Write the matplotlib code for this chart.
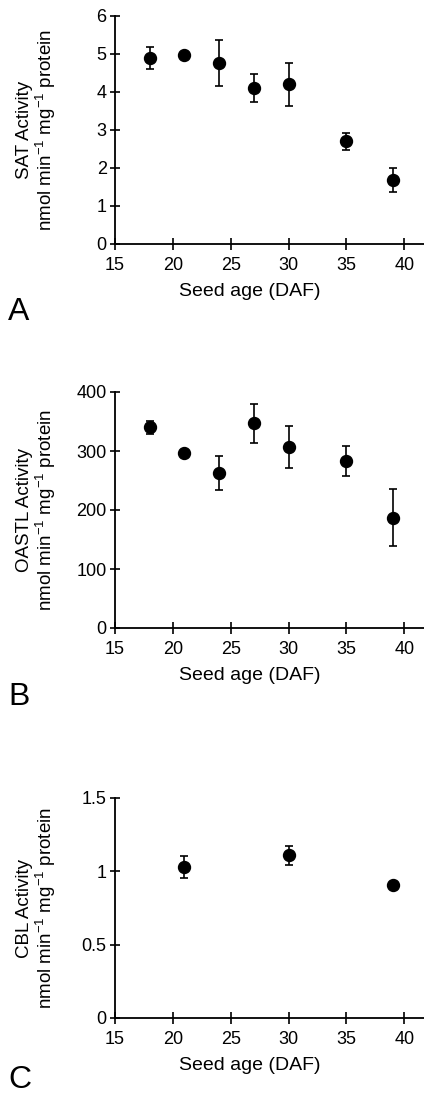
import matplotlib.pyplot as plt

plt.rcParams['font.family'] = ['Liberation Sans', 'DejaVu Sans']
plt.rcParams['mathtext.default'] = 'regular'

# seed age (DAF)
age_sat = [18, 21, 24, 27, 30, 35, 39]
sat = [4.89, 4.98, 4.77, 4.11, 4.20, 2.70, 1.69]
sat_err = [0.29, 0.0, 0.61, 0.37, 0.57, 0.23, 0.32]

age_oastl = [18, 21, 24, 27, 30, 35, 39]
oastl = [340, 296, 263, 347, 307, 283, 187]
oastl_err = [11, 0, 29, 33, 35, 26, 48]

age_cbl = [21, 30, 39]
cbl = [1.03, 1.11, 0.91]
cbl_err = [0.073, 0.064, 0.0]

W, H = 424, 1095
fig = plt.figure(figsize=(W / 100, H / 100), dpi=100)

panels = [
    (age_sat, sat, sat_err, 'SAT Activity', (0, 6), [0, 1, 2, 3, 4, 5, 6], ['0', '1', '2', '3', '4', '5', '6'], 244, 16, 'A', 312),
    (age_oastl, oastl, oastl_err, 'OASTL Activity', (0, 400), [0, 100, 200, 300, 400], ['0', '100', '200', '300', '400'], 628, 392, 'B', 697),
    (age_cbl, cbl, cbl_err, 'CBL Activity', (0, 1.5), [0, 0.5, 1, 1.5], ['0', '0.5', '1', '1.5'], 1018, 798, 'C', 1080),
]

for x, y, e, name, ylim, yt, ytl, y0, y1, letter, ly in panels:
    hpx = y0 - y1
    ax = fig.add_axes([115 / W, 1 - y0 / H, (W - 115) / W, hpx / H])
    ax.errorbar(x, y, yerr=e, fmt='o', color='black', ms=8.6, capsize=2.8,
                elinewidth=1.2, capthick=1.2)
    ax.set_xlim(15, 41.7)
    ax.set_ylim(*ylim)
    ax.set_xticks([15, 20, 25, 30, 35, 40])
    ax.set_yticks(yt)
    ax.set_yticklabels(ytl)
    ax.spines['top'].set_visible(False)
    ax.spines['right'].set_visible(False)
    ax.spines['left'].set_linewidth(1.3)
    ax.spines['bottom'].set_linewidth(1.3)
    ax.tick_params(axis='x', direction='inout', length=8, width=1.2, labelsize=13, pad=5)
    ax.tick_params(axis='y', direction='inout', length=7, width=1.2, labelsize=13, pad=2.5)
    ax.set_xlabel('Seed age (DAF)', fontsize=14)
    ax.xaxis.set_label_coords(0.437, -39 / hpx)
    ax.set_ylabel(name + '\nnmol min$^{-1}$ mg$^{-1}$ protein', fontsize=13.5, linespacing=1.05)
    ax.yaxis.set_label_coords(-0.184, 0.5)
    for a in ax.lines:
        a.set_clip_on(False)
    fig.text(8 / W, 1 - ly / H, letter, fontsize=23, va='center', ha='left')

fig.savefig('out.png', dpi=100)
